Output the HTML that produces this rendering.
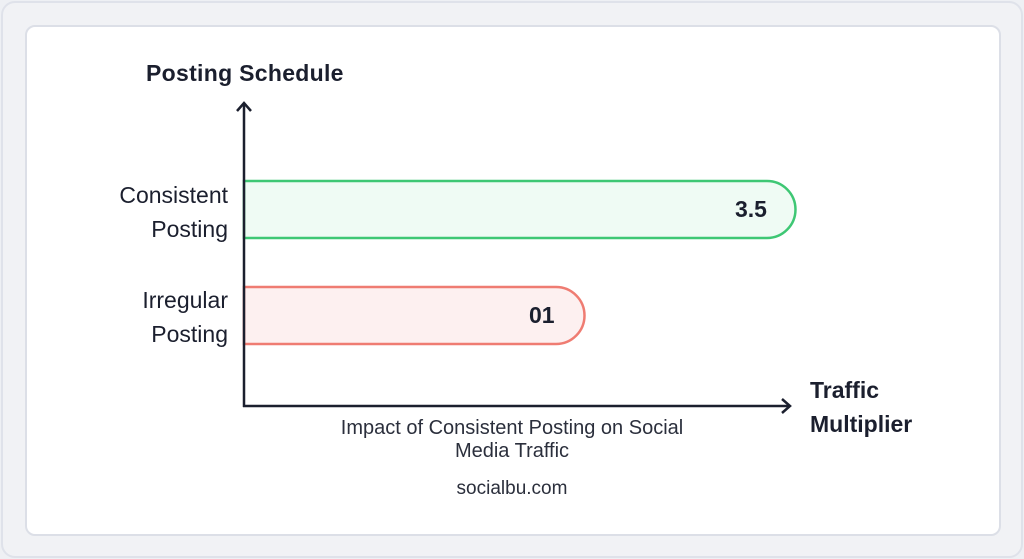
<!DOCTYPE html>
<html><head><style>
body{margin:0;width:1024px;height:559px;background:#eef0f4;font-family:"Liberation Sans",sans-serif;overflow:hidden}
.outer{position:absolute;left:1px;top:1px;width:1018px;height:553px;border:2px solid #dfe2ea;border-radius:14px;background:#f1f2f5}
.card{position:absolute;left:25px;top:25px;width:972px;height:507px;background:#fff;border:2px solid #dcdfe7;border-radius:10px}
.t{position:absolute;color:#1b1f2e;white-space:nowrap}
</style></head><body>
<div class="outer"></div>
<div class="card"></div>
<svg width="1024" height="559" style="position:absolute;left:0;top:0">
<path d="M244 238 V181 H767 A28.5 28.5 0 0 1 767 238 Z" fill="#effbf4" stroke="#3ec774" stroke-width="2.5"/>
<path d="M244 344 V287 H556 A28.5 28.5 0 0 1 556 344 Z" fill="#fdf0f0" stroke="#ef7c72" stroke-width="2.5"/>
<line x1="244" y1="104" x2="244" y2="407" stroke="#1b1f2e" stroke-width="2.5"/>
<path d="M237 111 L244 103 L251 111" fill="none" stroke="#1b1f2e" stroke-width="2.5"/>
<line x1="243" y1="406" x2="789" y2="406" stroke="#1b1f2e" stroke-width="2.5"/>
<path d="M782 399 L790 406 L782 413" fill="none" stroke="#1b1f2e" stroke-width="2.5"/>
</svg>
<div class="t" style="left:146px;top:60px;font-size:23px;font-weight:bold;letter-spacing:0.3px">Posting Schedule</div>
<div class="t" style="left:60px;top:178px;width:168px;text-align:right;font-size:23px;line-height:34px">Consistent<br>Posting</div>
<div class="t" style="left:60px;top:283px;width:168px;text-align:right;font-size:23px;line-height:34px">Irregular<br>Posting</div>
<div class="t" style="left:735px;top:196px;font-size:23px;font-weight:bold">3.5</div>
<div class="t" style="left:529px;top:302px;font-size:23px;font-weight:bold">01</div>
<div class="t" style="left:810px;top:373px;font-size:23px;font-weight:bold;line-height:34px">Traffic<br>Multiplier</div>
<div class="t" style="left:262px;top:417px;width:500px;text-align:center;font-size:20px;line-height:23px;color:#2b2f3c">Impact of Consistent Posting on Social<br>Media Traffic</div>
<div class="t" style="left:262px;top:478px;width:500px;text-align:center;font-size:19px;color:#2b2f3c">socialbu.com</div>
</body></html>
